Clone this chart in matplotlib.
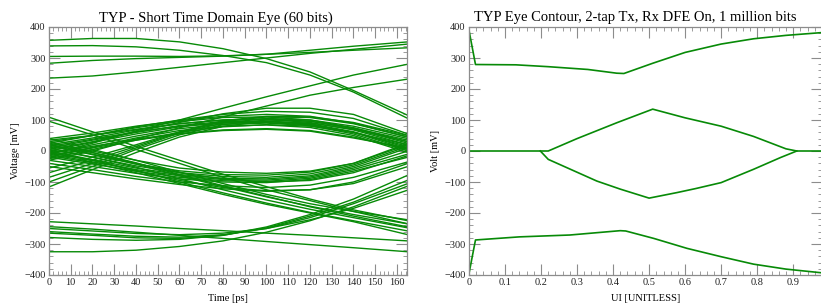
import matplotlib
matplotlib.use("Agg")
import matplotlib.pyplot as plt
from matplotlib.ticker import MultipleLocator

# ---- left panel: short time domain eye, sampled every 20 ps (last point 165 ps)
t_ps = [0, 20, 40, 60, 80, 100, 120, 140, 165]

upper_rail = [
    [357, 363, 363, 352, 330, 298, 255, 195, 115],
    [339, 340, 336, 325, 308, 285, 245, 190, 105],
    [305, 306, 306, 305, 307, 312, 325, 338, 352],
    [283, 292, 298, 302, 306, 312, 318, 325, 333],
    [235, 242, 255, 270, 285, 300, 315, 328, 345],
]
rising_high = [
    [-10, 25, 65, 100, 138, 175, 210, 245, 280],
    [-30, 0, 38, 75, 110, 145, 180, 205, 232],
]
upper_eye = [
    [30, 50, 75, 95, 108, 110, 100, 75, 30],
    [20, 42, 68, 88, 100, 102, 92, 68, 20],
    [10, 35, 60, 82, 95, 97, 88, 62, 10],
    [0, 28, 55, 78, 92, 95, 86, 60, 5],
    [-10, 20, 48, 72, 86, 90, 82, 55, 0],
    [-20, 12, 42, 66, 80, 84, 76, 50, -5],
    [40, 58, 80, 98, 112, 118, 112, 90, 45],
    [25, 50, 78, 100, 118, 128, 125, 105, 50],
    [5, 30, 62, 92, 120, 138, 138, 118, 55],
    [-5, 15, 38, 56, 68, 72, 66, 45, 5],
    [-15, 10, 35, 55, 66, 70, 64, 42, 10],
    [15, 38, 62, 80, 90, 92, 84, 60, 15],
    [35, 50, 70, 88, 100, 104, 96, 72, 25],
    [-25, 5, 35, 60, 78, 85, 80, 60, 20],
]
rising_edges = [
    [-116, -60, -5, 45, 80, 95, 90, 70, 30],
    [-100, -50, 5, 52, 85, 100, 96, 74, 35],
    [-85, -40, 10, 58, 90, 105, 100, 80, 40],
    [-70, -30, 15, 60, 95, 110, 108, 88, 45],
    [-55, -20, 20, 62, 98, 112, 110, 92, 50],
]
falling_edges = [
    [109, 62, 15, -30, -75, -115, -155, -190, -225],
    [96, 52, 5, -40, -85, -125, -160, -195, -235],
    [25, 0, -30, -68, -105, -140, -170, -195, -222],
    [15, -10, -42, -80, -115, -148, -178, -205, -235],
    [5, -20, -52, -90, -125, -158, -188, -215, -248],
    [-5, -30, -62, -100, -135, -168, -198, -225, -258],
    [20, -5, -38, -76, -112, -146, -180, -210, -245],
    [-15, -38, -70, -105, -140, -172, -200, -228, -270],
]
lower_eye = [
    [-30, -50, -72, -90, -100, -102, -92, -65, -20],
    [-20, -42, -65, -85, -96, -98, -88, -60, -10],
    [-10, -35, -60, -80, -92, -94, -84, -55, 0],
    [0, -28, -55, -76, -88, -90, -80, -50, 10],
    [10, -20, -48, -70, -82, -85, -74, -45, 15],
    [20, -12, -42, -64, -76, -78, -68, -40, 20],
    [-40, -60, -82, -100, -112, -118, -110, -85, -35],
    [30, -5, -40, -70, -90, -100, -95, -70, -15],
    [-5, -30, -65, -95, -118, -128, -125, -100, -40],
    [40, 5, -30, -55, -68, -72, -65, -40, 25],
    [-50, -70, -90, -108, -122, -130, -125, -105, -50],
]
lower_rail = [
    [-228, -235, -242, -250, -257, -265, -272, -280, -290],
    [-244, -252, -262, -272, -282, -292, -302, -312, -325],
    [-260, -268, -275, -278, -270, -250, -215, -170, -105],
    [-279, -285, -288, -285, -272, -248, -210, -165, -94],
    [-325, -325, -320, -308, -290, -262, -225, -180, -113],
    [-265, -272, -280, -282, -272, -245, -205, -155, -78],
    [-250, -258, -266, -270, -265, -250, -222, -185, -126],
]

# ---- right panel: eye contour
outer_top_ui = [0, 0.018, 0.13, 0.22, 0.33, 0.41, 0.43, 0.51, 0.60, 0.70, 0.79, 0.88, 0.98]
outer_top_mv = [389, 279, 278, 272, 263, 251, 250, 283, 318, 345, 362, 373, 382]
inner_top_ui = [0, 0.22, 0.30, 0.41, 0.51, 0.60, 0.70, 0.79, 0.88, 0.91, 0.98]
inner_top_mv = [0, 0, 40, 91, 135, 107, 80, 47, 7, 0, 0]
inner_bot_ui = [0.198, 0.22, 0.355, 0.42, 0.50, 0.578, 0.63, 0.70, 0.79, 0.865, 0.91]
inner_bot_mv = [0, -27, -97, -123, -152, -134, -121, -102, -59, -21, 0]
outer_bot_ui = [0, 0.018, 0.14, 0.28, 0.42, 0.435, 0.513, 0.605, 0.70, 0.79, 0.88, 0.98]
outer_bot_mv = [-395, -287, -277, -271, -257, -258, -282, -314, -341, -365, -381, -393]

green = "#078a07"
grey = "#8c8c8c"
plt.rcParams['font.family'] = ['Liberation Serif', 'DejaVu Serif']

fig = plt.figure(figsize=(8.21, 3.04), dpi=100)
ax1 = fig.add_axes([49 / 821, 29 / 304, 358 / 821, 248 / 304])
ax2 = fig.add_axes([469 / 821, 29 / 304, 353 / 821, 248 / 304])

for group in [upper_rail, rising_high, upper_eye, rising_edges, falling_edges, lower_eye, lower_rail]:
    for tr in group:
        ax1.plot(t_ps, tr, color=green, lw=1.0)

ax2.plot(outer_top_ui, outer_top_mv, color=green, lw=1.2)
ax2.plot(inner_top_ui, inner_top_mv, color=green, lw=1.2)
ax2.plot(inner_bot_ui, inner_bot_mv, color=green, lw=1.2)
ax2.plot(outer_bot_ui, outer_bot_mv, color=green, lw=1.2)

ax1.set_xlim(0, 164.6)
ax1.xaxis.set_major_locator(MultipleLocator(10))
ax1.xaxis.set_minor_locator(MultipleLocator(2))
ax2.set_xlim(0, 0.98)
ax2.xaxis.set_major_locator(MultipleLocator(0.1))
ax2.xaxis.set_minor_locator(MultipleLocator(0.02))
ax2.set_xticks([0, 0.1, 0.2, 0.3, 0.4, 0.5, 0.6, 0.7, 0.8, 0.9])
ax2.set_xticklabels(["0", "0.1", "0.2", "0.3", "0.4", "0.5", "0.6", "0.7", "0.8", "0.9"])

for ax in (ax1, ax2):
    ax.set_ylim(-400, 400)
    ax.yaxis.set_major_locator(MultipleLocator(100))
    ax.yaxis.set_minor_locator(MultipleLocator(20))
    ax.tick_params(which='both', direction='in', top=True, right=True,
                   color=grey, labelsize=7.5, labelcolor='#222222', pad=2.5)
    ax.tick_params(which='major', length=8, width=0.8)
    ax.tick_params(which='minor', length=3, width=0.6)
    for s in ax.spines.values():
        s.set_color(grey)
        s.set_linewidth(0.9)

ax1.set_title("TYP - Short Time Domain Eye (60 bits)", fontsize=10.5, x=0.466, pad=4)
ax2.set_title("TYP Eye Contour, 2-tap Tx, Rx DFE On, 1 million bits", fontsize=10.5, x=0.47, pad=4)
ax1.set_xlabel("Time [ps]", fontsize=7.5, labelpad=5)
ax1.set_ylabel("Voltage [mV]", fontsize=7.5, labelpad=3)
ax2.set_xlabel("UI [UNITLESS]", fontsize=7.5, labelpad=5)
ax2.set_ylabel("Volt [mV]", fontsize=7.5, labelpad=3)

fig.savefig("out.png", dpi=100)
